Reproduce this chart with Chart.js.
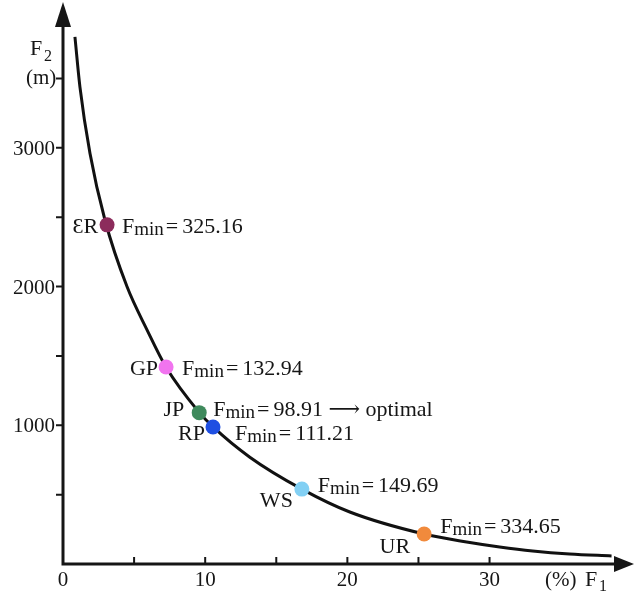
<!DOCTYPE html>
<html>
<head>
<meta charset="utf-8">
<script src="https://cdn.jsdelivr.net/npm/chart.js@4.4.0/dist/chart.umd.min.js"></script>
<style>
html, body { margin: 0; padding: 0; background: #fff; }
</style>
</head>
<body>
<canvas id="pareto" width="636" height="591"></canvas>
<script>
// pareto front, F1 in %, F2 in m
var curveF1 = [0.84, 1.19, 1.90, 2.95, 4.50, 5.90, 7.24, 9.56, 10.54, 13.14, 16.80, 20.17, 25.40, 28.39, 30.71, 33.03, 35.63, 38.58];
var curveF2 = [3800, 3440, 2960, 2480, 2000, 1690, 1420, 1095, 990, 770, 540, 375, 216, 159, 123, 94, 72, 58];

// methods sitting on the front
var methods = ['ƐR', 'GP', 'JP', 'RP', 'WS', 'UR'];
var methodF1 = [3.1, 7.25, 9.58, 10.55, 16.8, 25.4];
var methodF2 = [2445, 1420, 1091, 988, 540, 216];
var fminValues = ['325.16', '132.94', '98.91', '111.21', '149.69', '334.65'];
var optimalIndex = 2;

var xTickLabels = [0, 10, 20, 30];
var xTickMarks = [5, 10, 15, 20, 25, 30];
var yTickLabels = [1000, 2000, 3000];
var yTickMarks = [500, 1000, 1500, 2000, 2500, 3000, 3500];

var methodColors = ['#8c2c5c', '#f174ef', '#3f8a5c', '#1f4fe2', '#82d0f4', '#f18a3c'];
// where each name / Fmin text sits relative to its dot, in px
var nameOffsets = [[-9, 8], [-8, 8], [-15, 3], [-8, 13], [-9, 18], [-14, 19]];
var fminOffsets = [[15, 8], [16, 8], [14, 3], [22, 13], [16, 3], [16, -1]];

var SERIF = '"Liberation Serif", "DejaVu Serif", serif';
var INK = '#161616';

function drawFmin(c, x, y, value) {
    c.textAlign = 'left';
    c.font = '22px ' + SERIF;
    c.fillText('F', x, y);
    x += c.measureText('F').width;
    c.font = '19px ' + SERIF;
    c.fillText('min', x, y + 2);
    x += c.measureText('min').width + 2;
    c.font = '22px ' + SERIF;
    c.fillText('=', x, y);
    x += c.measureText('=').width + 4;
    c.fillText(value, x, y);
}

var axesPlugin = {
    id: 'axesPlugin',
    afterDraw: function(chart) {
        var c = chart.ctx;
        var xs = chart.scales.x, ys = chart.scales.y;
        var x0 = xs.getPixelForValue(0), y0 = ys.getPixelForValue(0);
        var top = chart.chartArea.top, right = chart.chartArea.right;
        c.save();
        c.strokeStyle = INK;
        c.fillStyle = INK;
        c.lineWidth = 3;
        // axis lines
        c.beginPath();
        c.moveTo(x0, y0 + 1.5);
        c.lineTo(x0, top + 20);
        c.moveTo(x0 - 1.5, y0);
        c.lineTo(right - 18, y0);
        c.stroke();
        // arrow heads
        c.beginPath();
        c.moveTo(x0, top - 3);
        c.lineTo(x0 - 8, top + 22);
        c.lineTo(x0 + 8, top + 22);
        c.closePath();
        c.fill();
        c.beginPath();
        c.moveTo(right - 2, y0);
        c.lineTo(right - 22, y0 - 8);
        c.lineTo(right - 22, y0 + 8);
        c.closePath();
        c.fill();
        // tick marks
        c.lineWidth = 2;
        c.beginPath();
        yTickMarks.forEach(function(v) {
            var p = ys.getPixelForValue(v);
            c.moveTo(x0 - 7, p);
            c.lineTo(x0, p);
        });
        xTickMarks.forEach(function(v) {
            var p = xs.getPixelForValue(v);
            c.moveTo(p, y0 - 7);
            c.lineTo(p, y0);
        });
        c.stroke();

        // tick labels
        c.textBaseline = 'alphabetic';
        c.font = '21px ' + SERIF;
        c.textAlign = 'right';
        yTickLabels.forEach(function(v) {
            c.fillText(String(v), x0 - 8, ys.getPixelForValue(v) + 7);
        });
        c.textAlign = 'center';
        xTickLabels.forEach(function(v) {
            c.fillText(String(v), xs.getPixelForValue(v), y0 + 22);
        });

        // axis titles
        c.textAlign = 'left';
        c.font = '22px ' + SERIF;
        c.fillText('F', 30, 55);
        c.font = '16px ' + SERIF;
        c.fillText('2', 44, 61);
        c.font = '21px ' + SERIF;
        c.fillText('(m)', 26, 84);
        c.fillText('(%)', 545, 586);
        c.font = '22px ' + SERIF;
        c.fillText('F', 585, 586);
        c.font = '16px ' + SERIF;
        c.fillText('1', 599, 591);

        // method names and Fmin values
        methods.forEach(function(name, i) {
            var px = xs.getPixelForValue(methodF1[i]);
            var py = ys.getPixelForValue(methodF2[i]);
            c.font = '22px ' + SERIF;
            c.textAlign = 'right';
            c.fillText(name, px + nameOffsets[i][0], py + nameOffsets[i][1]);
            var val = fminValues[i];
            if (i === optimalIndex) val += ' \u27F6 optimal';
            drawFmin(c, px + fminOffsets[i][0], py + fminOffsets[i][1], val);
        });
        c.restore();
    }
};

var curveData = curveF1.map(function(v, i) { return {x: v, y: curveF2[i]}; });
var methodData = methodF1.map(function(v, i) { return {x: v, y: methodF2[i]}; });

var paretoChart = new Chart(document.getElementById('pareto'), {
    type: 'scatter',
    data: {
        datasets: [{
            label: 'methods',
            data: methodData,
            pointRadius: 7.5,
            pointBackgroundColor: methodColors,
            pointBorderWidth: 0,
            order: 0
        }, {
            label: 'front',
            data: curveData,
            showLine: true,
            borderColor: '#111',
            borderWidth: 3,
            pointRadius: 0,
            cubicInterpolationMode: 'monotone',
            order: 1
        }]
    },
    options: {
        responsive: false,
        animation: false,
        layout: { autoPadding: false, padding: { top: 5, right: 0, bottom: 0, left: 0 } },
        plugins: {
            legend: { display: false },
            tooltip: { enabled: false }
        },
        scales: {
            x: {
                type: 'linear',
                min: 0,
                max: 40.3,
                afterFit: function(s) { s.height = 27; s.paddingLeft = 0; s.paddingRight = 0; },
                grid: { display: false },
                border: { display: false },
                ticks: { display: false }
            },
            y: {
                type: 'linear',
                min: 0,
                max: 4030,
                afterFit: function(s) { s.width = 63; s.paddingTop = 0; s.paddingBottom = 0; },
                grid: { display: false },
                border: { display: false },
                ticks: { display: false }
            }
        }
    },
    plugins: [axesPlugin]
});
</script>
</body>
</html>
